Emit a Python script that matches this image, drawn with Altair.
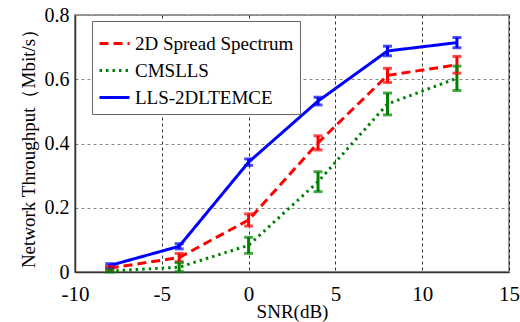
import altair as alt
import pandas as pd

snr = [-8, -4, 0, 4, 8, 12]
series_names = ["2D Spread Spectrum", "CMSLLS", "LLS-2DLTEMCE"]
red_vals = [0.012, 0.045, 0.162, 0.402, 0.612, 0.645]
red_err = [0.006, 0.013, 0.019, 0.022, 0.022, 0.026]
green_vals = [0.003, 0.015, 0.083, 0.281, 0.523, 0.603]
green_err = [0.004, 0.014, 0.025, 0.031, 0.034, 0.038]
blue_vals = [0.020, 0.080, 0.342, 0.532, 0.688, 0.714]
blue_err = [0.006, 0.008, 0.010, 0.012, 0.015, 0.016]

rows = []
for name, vals, errs in zip(series_names, [red_vals, green_vals, blue_vals], [red_err, green_err, blue_err]):
    for x, v, e in zip(snr, vals, errs):
        rows.append({"snr": x, "val": v, "lo": max(v - e, 0), "hi": v + e, "series": name})
df = pd.DataFrame(rows)

FONT = "Liberation Serif"
colors = ["#ff0000", "#008000", "#0000ff"]
dashes = [[9, 5], [2.5, 4], [1, 0]]

x_enc = alt.X("snr:Q", scale=alt.Scale(domain=[-10, 15], nice=False),
              axis=alt.Axis(values=[-10, -5, 0, 5, 10, 15], title="SNR(dB)",
                            labelExpr="toString(datum.value)", labelFlush=False,
                            labelFont=FONT, labelFontSize=21, labelPadding=11,
                            gridDash=[3, 3], gridColor="#000000", gridOpacity=0.8, gridWidth=1))
y_enc = alt.Y("val:Q", scale=alt.Scale(domain=[0, 0.8], nice=False),
              axis=alt.Axis(values=[0, 0.2, 0.4, 0.6, 0.8], title="Network Throughput（Mbit/s）",
                            labelFont=FONT, labelFontSize=20, labelFlush=False,
                            gridDash=[3, 3], gridColor="#888888", gridWidth=1.2,
                            labelExpr="datum.value == 0 ? '0' : format(datum.value, '.1f')"))

color_scale = alt.Scale(domain=series_names, range=colors)
dash_scale = alt.Scale(domain=series_names, range=dashes)

lines = alt.Chart(df).mark_line(strokeWidth=3).encode(
    x=x_enc, y=y_enc,
    color=alt.Color("series:N", scale=color_scale,
                    legend=alt.Legend(title=None, orient="none", legendX=17, legendY=6,
                                      symbolType="stroke", symbolSize=900, symbolStrokeWidth=3,
                                      labelFont=FONT, labelFontSize=19, labelColor="#000000",
                                      rowPadding=-5, fillColor="#ffffff", strokeColor="#666666",
                                      padding=6, labelOffset=4, symbolOffset=0)),
    strokeDash=alt.StrokeDash("series:N", scale=dash_scale, legend=None),
)

bars = alt.Chart(df).mark_rule(strokeWidth=3).encode(
    x="snr:Q", y="lo:Q", y2="hi:Q",
    color=alt.Color("series:N", scale=color_scale, legend=None),
)
caps_lo = alt.Chart(df).mark_tick(size=9, thickness=3, orient="horizontal").encode(
    x="snr:Q", y="lo:Q", color=alt.Color("series:N", scale=color_scale, legend=None))
caps_hi = alt.Chart(df).mark_tick(size=9, thickness=3, orient="horizontal").encode(
    x="snr:Q", y="hi:Q", color=alt.Color("series:N", scale=color_scale, legend=None))

chart = alt.layer(lines, bars, caps_lo, caps_hi).resolve_legend(color="shared").properties(
    width=434, height=257,
    autosize=alt.AutoSizeParams(type="none"),
    padding={"left": 75, "top": 15, "right": 11, "bottom": 50},
    background="#ffffff",
).configure_view(
    stroke="#999999", strokeWidth=2
).configure_axis(
    labelFont=FONT, labelColor="#000000",
    titleFont=FONT, titleFontSize=19, titleColor="#000000", titleFontWeight="normal",
    domainColor="#333333", domainWidth=1.5, ticks=False, labelPadding=6,
).configure_axisX(
    titlePadding=-2
).configure_axisY(
    titlePadding=6
).configure_legend(
    labelFont=FONT, labelFontSize=19
)

chart.save("out.html", embed_options={"renderer": "svg", "actions": False})
